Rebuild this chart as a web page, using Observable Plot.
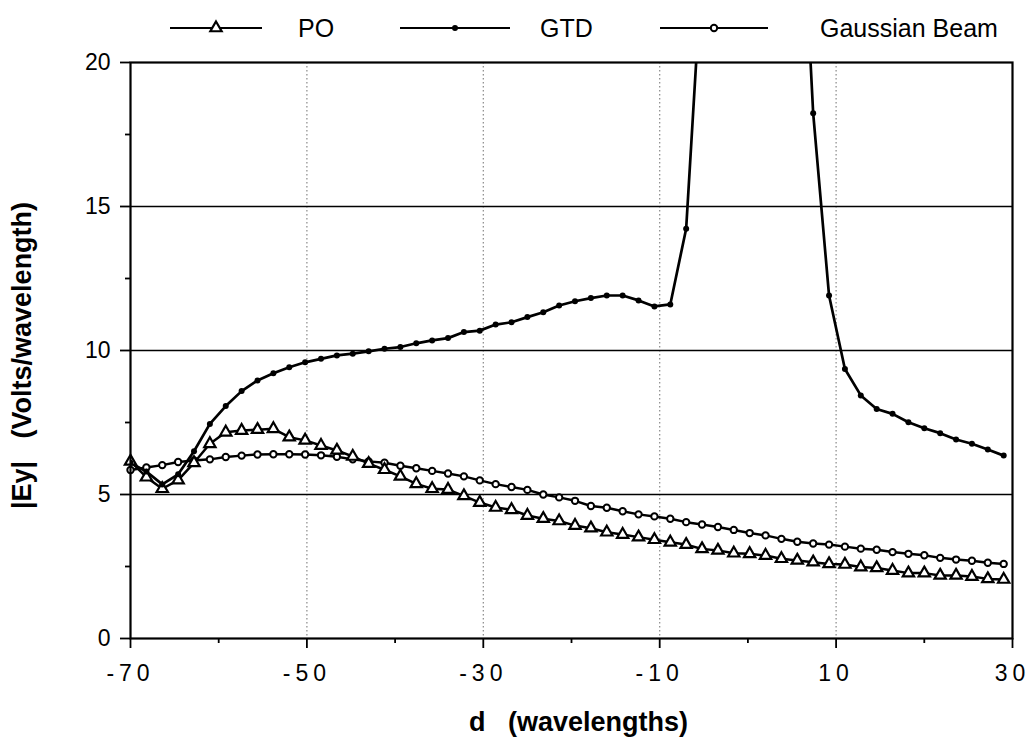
<!DOCTYPE html>
<html><head><meta charset="utf-8">
<script src="https://cdn.jsdelivr.net/npm/d3@7"></script>
<script src="https://cdn.jsdelivr.net/npm/@observablehq/plot@0.6"></script>
<style>
body{margin:0;background:#fff;font-family:"Liberation Sans",Arial,sans-serif;}
#legend{height:50px;}
#chart g[aria-label="x-axis tick label"] text{letter-spacing:5px;}
</style></head><body>
<div id="legend"></div>
<div id="chart"></div>
<script>
// d (wavelengths)
const dVals = [-70,-68.2,-66.4,-64.6,-62.8,-61,-59.2,-57.4,-55.6,-53.8,-52,-50.2,-48.4,-46.6,-44.8,-43,-41.2,-39.4,-37.6,-35.8,-34,-32.2,-30.4,-28.6,-26.8,-25,-23.2,-21.4,-19.6,-17.8,-16,-14.2,-12.4,-10.6,-8.8,-7,-5.2,-3.4,-1.6,0.2,2,3.8,5.6,7.4,9.2,11,12.8,14.6,16.4,18.2,20,21.8,23.6,25.4,27.2,29];
// |Ey| PO
const poVals = [6.15,5.6,5.2,5.5,6.1,6.76,7.16,7.22,7.25,7.28,6.99,6.88,6.7,6.53,6.32,6.07,5.86,5.63,5.37,5.2,5.17,4.95,4.72,4.55,4.47,4.27,4.16,4.08,3.92,3.83,3.69,3.61,3.52,3.43,3.34,3.26,3.11,3.06,2.96,2.94,2.88,2.77,2.71,2.65,2.59,2.57,2.48,2.45,2.36,2.27,2.27,2.19,2.19,2.15,2.07,2.05];
// |Ey| GTD (values near d=0 run off the top of the chart)
const gtdVals = [6.1,5.8,5.35,5.7,6.5,7.45,8.07,8.59,8.96,9.21,9.42,9.59,9.71,9.83,9.89,9.97,10.06,10.12,10.25,10.35,10.43,10.64,10.69,10.9,10.98,11.16,11.33,11.56,11.71,11.82,11.91,11.91,11.74,11.53,11.6,14.23,23.4,38,60,75,58,40,29,18.24,11.91,9.36,8.44,7.97,7.8,7.51,7.3,7.13,6.91,6.76,6.56,6.35];
// |Ey| Gaussian Beam
const gbVals = [5.85,5.94,6.02,6.13,6.18,6.22,6.3,6.35,6.39,6.4,6.4,6.39,6.36,6.31,6.22,6.15,6.1,6.0,5.91,5.82,5.73,5.63,5.49,5.36,5.26,5.16,5.0,4.9,4.78,4.6,4.54,4.42,4.31,4.24,4.16,4.04,3.96,3.87,3.77,3.66,3.58,3.46,3.36,3.3,3.26,3.19,3.12,3.08,3.0,2.94,2.89,2.8,2.74,2.7,2.63,2.59];

const seriesNames = ["PO","GTD","Gaussian Beam"];
const xMajorTicks = [-70,-50,-30,-10,10,30];
const xMinorTicks = [-60,-40,-20,0,20];
const xGridLines = [-50,-30,-10,10];
const yMajorTicks = [0,5,10,15,20];
const yMinorTicks = [2.5,7.5,12.5,17.5];
const yGridLines = [5,10,15];
const xTitle = "d\u00a0\u00a0\u00a0(wavelengths)";
const yTitle = "|Ey|\u00a0\u00a0\u00a0(Volts/wavelength)";

const rows = dVals.map((d,i)=>({d, po:poVals[i], gtd:gtdVals[i], gb:gbVals[i]}));

// Legend
const lg = d3.select("#legend").append("svg").attr("width",1036).attr("height",50);
const legendItems = [
  {name:seriesNames[0], x0:170, x1:262, tx:298, sym:"tri"},
  {name:seriesNames[1], x0:400, x1:510, tx:540, sym:"dot"},
  {name:seriesNames[2], x0:660, x1:768, tx:820, sym:"circ"}
];
legendItems.forEach(it=>{
  const cy = 28, cx=(it.x0+it.x1)/2;
  lg.append("line").attr("x1",it.x0).attr("x2",it.x1).attr("y1",cy).attr("y2",cy).attr("stroke","black").attr("stroke-width",2.2);
  if(it.sym==="tri") lg.append("path").attr("d",d3.symbol(d3.symbolTriangle, Math.PI*4.2*4.2)()).attr("transform",`translate(${cx},${cy})`).attr("fill","white").attr("stroke","black").attr("stroke-width",2.2);
  if(it.sym==="dot") lg.append("circle").attr("cx",cx).attr("cy",cy).attr("r",3).attr("fill","black");
  if(it.sym==="circ") lg.append("circle").attr("cx",cx).attr("cy",cy).attr("r",3.2).attr("fill","white").attr("stroke","black").attr("stroke-width",2);
  lg.append("text").attr("x",it.tx).attr("y",cy).attr("dy","0.36em").attr("font-size",25).attr("font-family","Liberation Sans, Arial, sans-serif").text(it.name);
});

const chart = Plot.plot({
  width:1036, height:696,
  marginTop:12, marginLeft:130, marginRight:24, marginBottom:108,
  x:{domain:[-70,30]},
  y:{domain:[0,20]},
  style:{fontFamily:"Liberation Sans, Arial, sans-serif", fontSize:"22px", color:"black", background:"white"},
  marks:[
    Plot.ruleX(xGridLines, {stroke:"#888", strokeWidth:1.2, strokeDasharray:"1.5,2.5"}),
    Plot.ruleY(yGridLines, {stroke:"black", strokeWidth:1.6}),
    Plot.line(rows, {x:"d", y:"gb", stroke:"black", strokeWidth:2.5}),
    Plot.line(rows, {x:"d", y:"po", stroke:"black", strokeWidth:2.5}),
    Plot.line(rows, {x:"d", y:"gtd", stroke:"black", strokeWidth:2.7, clip:true}),
    Plot.dot(rows, {x:"d", y:"gb", r:3.2, fill:"white", stroke:"black", strokeWidth:2}),
    Plot.dot(rows, {x:"d", y:"po", symbol:"triangle", r:4.2, fill:"white", stroke:"black", strokeWidth:2.2}),
    Plot.dot(rows, {x:"d", y:"gtd", r:3, fill:"black", clip:true}),
    Plot.frame({stroke:"black", strokeWidth:2.2}),
    Plot.axisX(xMajorTicks, {tickSize:10, tickPadding:16, strokeWidth:1.8, tickFormat:v=>String(v), label:null, fontSize:23}),
    Plot.axisX(xMinorTicks, {tickSize:5, strokeWidth:1.8, tickFormat:()=>"", label:null}),
    Plot.axisY(yMajorTicks, {tickSize:10, tickPadding:10, strokeWidth:1.8, label:null, fontSize:23}),
    Plot.axisY(yMinorTicks, {tickSize:5, strokeWidth:1.8, tickFormat:()=>"", label:null}),
    Plot.text([yTitle], {frameAnchor:"left", textAnchor:"middle", dx:-108, dy:5, rotate:-90, fontWeight:"bold", fontSize:27}),
    Plot.text([xTitle], {frameAnchor:"bottom", textAnchor:"middle", dx:7, dy:92, fontWeight:"bold", fontSize:27})
  ]
});
document.getElementById("chart").appendChild(chart);
</script>
</body></html>
